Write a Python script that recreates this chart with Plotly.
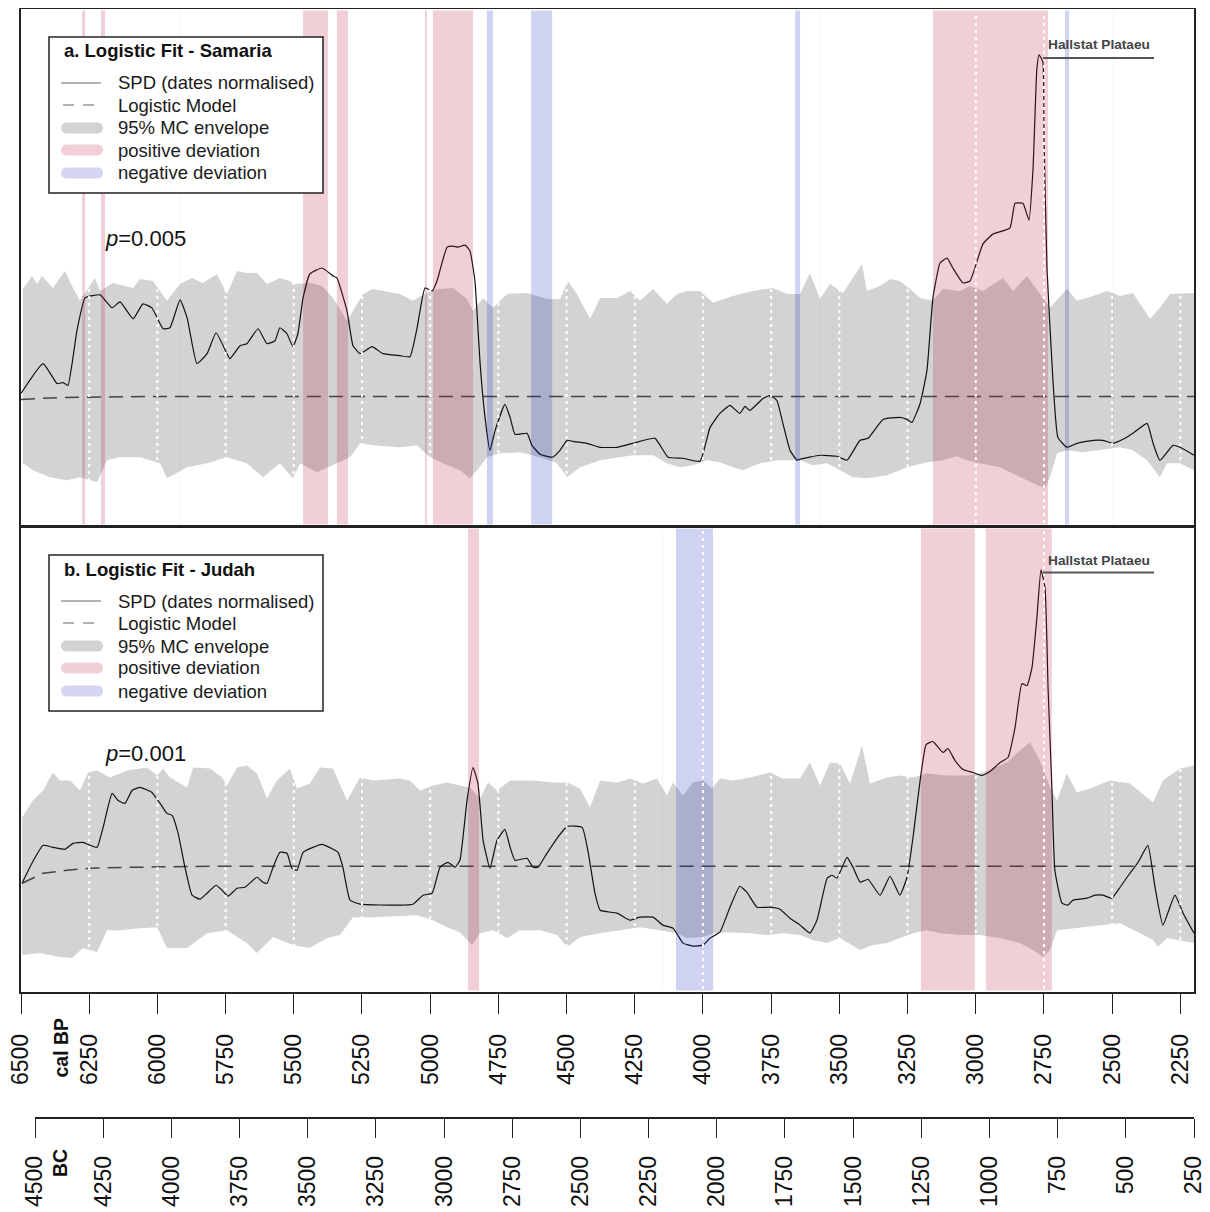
import plotly.graph_objects as go

FONT = "Liberation Sans, Arial, Helvetica, sans-serif"

# ---------------- data (x in years cal BP, y in arbitrary SPD units) ----------------
bp_ticks = list(range(6500, 2249, -250))
bc_ticks = list(range(4500, 249, -250))
bp_range = [6500, 2200]
bc_range = [4500, 250]

samaria_spd = [
    (6500, 1.33), (6419, 1.63), (6368, 1.43), (6346, 1.44), (6328, 1.41), (6295, 1.96), (6265, 2.29),
    (6210, 2.32), (6166, 2.19), (6137, 2.25), (6089, 2.08), (6053, 2.23), (6020, 2.19), (5979, 1.98),
    (5954, 1.99), (5917, 2.27), (5891, 2.09), (5855, 1.63), (5818, 1.73), (5785, 1.94), (5745, 1.73),
    (5734, 1.68), (5697, 1.81), (5672, 1.83), (5631, 1.98), (5598, 1.83), (5569, 1.86), (5551, 1.99),
    (5525, 1.93), (5503, 1.80), (5485, 1.93), (5466, 2.29), (5441, 2.53), (5397, 2.59), (5356, 2.51),
    (5342, 2.49), (5305, 2.16), (5283, 1.81), (5257, 1.73), (5213, 1.80), (5173, 1.73), (5111, 1.71),
    (5074, 1.70), (5048, 1.99), (5019, 2.39), (4993, 2.36), (4975, 2.46), (4938, 2.80), (4916, 2.81),
    (4898, 2.80), (4872, 2.82), (4854, 2.76), (4836, 2.46), (4817, 1.63), (4799, 1.09), (4781, 0.76),
    (4762, 0.96), (4726, 1.22), (4707, 1.09), (4689, 0.92), (4645, 0.93), (4627, 0.81), (4597, 0.72),
    (4553, 0.69), (4524, 0.76), (4498, 0.86), (4477, 0.85), (4425, 0.83), (4377, 0.79), (4315, 0.79),
    (4257, 0.83), (4176, 0.88), (4128, 0.69), (4073, 0.68), (4011, 0.65), (3974, 0.99), (3938, 1.13),
    (3901, 1.21), (3865, 1.13), (3846, 1.20), (3828, 1.16), (3780, 1.28), (3754, 1.31), (3729, 1.26),
    (3707, 1.03), (3681, 0.76), (3655, 0.66), (3644, 0.67), (3571, 0.71), (3509, 0.70), (3472, 0.66),
    (3424, 0.86), (3395, 0.88), (3340, 1.07), (3278, 1.09), (3252, 1.07), (3234, 1.04), (3204, 1.23),
    (3179, 1.56), (3157, 2.29), (3131, 2.64), (3105, 2.69), (3084, 2.59), (3047, 2.44), (3021, 2.46),
    (2974, 2.83), (2937, 2.93), (2875, 2.99), (2856, 3.24), (2827, 3.24), (2805, 3.07), (2790, 3.59),
    (2776, 4.59), (2768, 4.73), (2754, 4.66), (2750, 3.93), (2739, 2.59), (2717, 1.46), (2699, 0.89),
    (2666, 0.79), (2629, 0.83), (2570, 0.86), (2534, 0.86), (2497, 0.83), (2453, 0.88), (2424, 0.93),
    (2372, 1.03), (2350, 0.83), (2325, 0.66), (2277, 0.81), (2251, 0.79), (2200, 0.71),
]
samaria_env_upper = [
    (6493, 2.38), (6460, 2.51), (6441, 2.43), (6423, 2.51), (6383, 2.39), (6339, 2.56), (6313, 2.41),
    (6284, 2.26), (6229, 2.49), (6210, 2.36), (6163, 2.44), (6089, 2.39), (6064, 2.48), (6016, 2.46),
    (5965, 2.26), (5917, 2.43), (5873, 2.49), (5833, 2.44), (5782, 2.53), (5745, 2.33), (5708, 2.56),
    (5672, 2.54), (5635, 2.54), (5598, 2.43), (5551, 2.49), (5514, 2.46), (5503, 2.43), (5441, 2.44),
    (5397, 2.41), (5356, 2.29), (5305, 2.06), (5283, 2.16), (5246, 2.33), (5210, 2.38), (5111, 2.33),
    (5063, 2.26), (5001, 2.36), (4964, 2.38), (4916, 2.39), (4865, 2.28), (4843, 2.16), (4806, 2.29),
    (4770, 2.19), (4718, 2.33), (4645, 2.34), (4572, 2.28), (4524, 2.28), (4495, 2.46), (4462, 2.33),
    (4414, 2.08), (4377, 2.29), (4315, 2.29), (4267, 2.36), (4231, 2.26), (4183, 2.38), (4132, 2.23),
    (4095, 2.33), (4059, 2.36), (4011, 2.36), (3963, 2.24), (3890, 2.31), (3817, 2.36), (3743, 2.39),
    (3692, 2.33), (3644, 2.33), (3608, 2.54), (3571, 2.28), (3534, 2.43), (3487, 2.34), (3417, 2.63),
    (3399, 2.36), (3351, 2.41), (3314, 2.48), (3278, 2.46), (3241, 2.38), (3204, 2.29), (3157, 2.26),
    (3120, 2.38), (3058, 2.36), (3021, 2.41), (2974, 2.36), (2900, 2.49), (2863, 2.36), (2812, 2.51),
    (2765, 2.33), (2728, 2.19), (2666, 2.38), (2629, 2.26), (2570, 2.31), (2519, 2.36), (2471, 2.31),
    (2424, 2.34), (2361, 2.08), (2325, 2.19), (2288, 2.33), (2200, 2.34),
]
samaria_env_lower = [
    (6493, 0.63), (6456, 0.56), (6394, 0.49), (6331, 0.46), (6284, 0.49), (6221, 0.44), (6185, 0.66),
    (6137, 0.69), (6064, 0.69), (5990, 0.63), (5965, 0.48), (5891, 0.59), (5818, 0.63), (5745, 0.69),
    (5672, 0.63), (5613, 0.49), (5551, 0.63), (5503, 0.48), (5477, 0.63), (5415, 0.54), (5356, 0.61),
    (5294, 0.69), (5257, 0.83), (5210, 0.81), (5111, 0.79), (5048, 0.81), (5001, 0.69), (4953, 0.63),
    (4891, 0.56), (4854, 0.48), (4828, 0.56), (4792, 0.69), (4744, 0.73), (4671, 0.74), (4597, 0.69),
    (4535, 0.63), (4498, 0.49), (4451, 0.59), (4377, 0.66), (4304, 0.69), (4257, 0.71), (4183, 0.71),
    (4132, 0.63), (4084, 0.59), (4037, 0.61), (3985, 0.66), (3938, 0.64), (3890, 0.59), (3853, 0.56),
    (3791, 0.63), (3729, 0.66), (3644, 0.66), (3597, 0.61), (3545, 0.63), (3498, 0.56), (3450, 0.49),
    (3399, 0.48), (3325, 0.51), (3252, 0.59), (3179, 0.64), (3120, 0.66), (3069, 0.70), (3032, 0.66),
    (2985, 0.63), (2911, 0.59), (2849, 0.51), (2790, 0.43), (2746, 0.38), (2728, 0.49), (2702, 0.73),
    (2666, 0.76), (2607, 0.74), (2545, 0.76), (2471, 0.79), (2424, 0.76), (2372, 0.66), (2325, 0.49),
    (2299, 0.63), (2251, 0.63), (2200, 0.56),
]
samaria_model = [(6500, 1.27), (6430, 1.28), (6357, 1.29), (6210, 1.295), (6000, 1.30), (2200, 1.30)]
samaria_pos = [(6276, 6265), (6207, 6192), (5917.5, 5916.5), (5466, 5375), (5342, 5301), (5019, 5012),
               (4990, 4843), (3157, 2735)]
samaria_neg = [(4792, 4770), (4630, 4553), (3662, 3644), (3571.5, 3570.5), (2673, 2658), (2494.5, 2493.5)]

judah_spd = [
    (6496, 1.09), (6460, 1.29), (6419, 1.47), (6383, 1.45), (6339, 1.43), (6309, 1.49), (6273, 1.50),
    (6247, 1.47), (6221, 1.45), (6199, 1.65), (6166, 1.99), (6144, 1.92), (6119, 1.89), (6093, 2.02),
    (6064, 2.05), (6020, 2.00), (5990, 1.89), (5965, 1.79), (5946, 1.77), (5924, 1.59), (5899, 1.25),
    (5873, 0.97), (5844, 0.93), (5818, 0.99), (5785, 1.07), (5763, 1.02), (5741, 0.96), (5708, 1.04),
    (5679, 1.05), (5635, 1.15), (5613, 1.10), (5598, 1.09), (5576, 1.25), (5551, 1.40), (5525, 1.39),
    (5507, 1.24), (5488, 1.22), (5466, 1.40), (5397, 1.48), (5356, 1.43), (5338, 1.40), (5320, 1.25),
    (5294, 0.92), (5257, 0.88), (5111, 0.87), (5063, 0.88), (5026, 0.97), (4993, 0.99), (4964, 1.25),
    (4935, 1.30), (4909, 1.25), (4891, 1.32), (4865, 1.92), (4843, 2.25), (4825, 2.09), (4806, 1.52),
    (4781, 1.24), (4755, 1.52), (4726, 1.63), (4707, 1.45), (4689, 1.32), (4645, 1.34), (4623, 1.25),
    (4605, 1.25), (4572, 1.39), (4535, 1.54), (4498, 1.66), (4443, 1.65), (4422, 1.42), (4396, 0.99),
    (4377, 0.82), (4315, 0.79), (4267, 0.72), (4231, 0.75), (4183, 0.75), (4147, 0.67), (4110, 0.64),
    (4073, 0.49), (4037, 0.46), (4000, 0.47), (3974, 0.54), (3938, 0.60), (3901, 0.85), (3865, 1.06),
    (3839, 1.00), (3802, 0.85), (3754, 0.85), (3718, 0.83), (3681, 0.74), (3644, 0.67), (3608, 0.59),
    (3582, 0.72), (3545, 1.14), (3527, 1.17), (3509, 1.14), (3472, 1.35), (3450, 1.25), (3424, 1.10),
    (3395, 1.13), (3351, 0.97), (3314, 1.16), (3278, 0.97), (3252, 1.15), (3230, 1.55), (3204, 2.12),
    (3182, 2.48), (3157, 2.51), (3120, 2.40), (3102, 2.44), (3076, 2.32), (3047, 2.23), (3010, 2.20),
    (2977, 2.17), (2948, 2.21), (2911, 2.30), (2882, 2.35), (2856, 2.65), (2831, 3.09), (2812, 3.07),
    (2794, 3.25), (2776, 3.75), (2761, 4.23), (2746, 4.05), (2735, 3.05), (2721, 2.05), (2710, 1.22),
    (2684, 0.89), (2662, 0.87), (2644, 0.92), (2592, 0.94), (2563, 0.97), (2534, 0.97), (2501, 0.94),
    (2471, 1.05), (2435, 1.19), (2405, 1.30), (2369, 1.47), (2343, 1.05), (2314, 0.67), (2270, 0.97),
    (2240, 0.79), (2200, 0.59),
]
judah_env_upper = [
    (6496, 1.75), (6456, 1.92), (6419, 2.02), (6383, 2.20), (6357, 2.12), (6320, 2.12), (6284, 2.02),
    (6254, 2.20), (6221, 2.22), (6174, 2.15), (6111, 2.22), (6038, 2.25), (6001, 2.17), (5979, 2.24),
    (5954, 2.15), (5891, 2.05), (5869, 2.25), (5807, 2.24), (5763, 2.15), (5745, 2.07), (5708, 2.25),
    (5672, 2.27), (5635, 2.19), (5598, 1.94), (5562, 2.12), (5514, 2.24), (5488, 2.04), (5441, 2.09),
    (5404, 2.25), (5356, 2.24), (5305, 1.92), (5257, 2.15), (5210, 2.12), (5111, 2.14), (5074, 2.12),
    (5037, 2.02), (4990, 2.07), (4938, 2.10), (4891, 2.07), (4854, 2.05), (4817, 1.94), (4788, 2.10),
    (4755, 2.02), (4707, 2.12), (4623, 2.12), (4550, 2.10), (4498, 2.10), (4451, 2.04), (4414, 1.85),
    (4377, 2.12), (4315, 2.10), (4267, 2.14), (4220, 2.09), (4169, 2.14), (4132, 1.97), (4110, 2.10),
    (4073, 1.97), (4037, 2.10), (4000, 2.12), (3967, 2.04), (3938, 2.14), (3890, 2.12), (3828, 2.15),
    (3754, 2.20), (3707, 2.14), (3644, 2.14), (3608, 2.30), (3571, 2.07), (3534, 2.30), (3498, 2.29),
    (3461, 2.09), (3417, 2.47), (3388, 2.09), (3325, 2.15), (3278, 2.17), (3230, 2.15), (3179, 2.19),
    (3105, 2.17), (3032, 2.17), (2985, 2.19), (2937, 2.24), (2886, 2.30), (2838, 2.42), (2801, 2.50),
    (2765, 2.32), (2728, 2.05), (2702, 1.92), (2666, 2.19), (2629, 2.00), (2581, 2.04), (2508, 2.12),
    (2435, 2.09), (2350, 1.90), (2314, 2.12), (2251, 2.24), (2200, 2.27),
]
judah_env_lower = [
    (6496, 0.37), (6430, 0.39), (6357, 0.35), (6313, 0.34), (6273, 0.44), (6221, 0.40), (6185, 0.62),
    (6137, 0.62), (6064, 0.64), (6001, 0.65), (5965, 0.44), (5891, 0.44), (5818, 0.59), (5745, 0.62),
    (5672, 0.49), (5635, 0.39), (5576, 0.55), (5503, 0.47), (5441, 0.44), (5378, 0.54), (5331, 0.57),
    (5283, 0.75), (5210, 0.75), (5111, 0.76), (5048, 0.77), (4990, 0.72), (4938, 0.65), (4891, 0.60),
    (4847, 0.47), (4817, 0.59), (4770, 0.62), (4718, 0.54), (4671, 0.62), (4597, 0.62), (4535, 0.57),
    (4498, 0.45), (4451, 0.55), (4377, 0.59), (4304, 0.62), (4231, 0.65), (4158, 0.62), (4095, 0.59),
    (4059, 0.54), (4000, 0.55), (3963, 0.59), (3912, 0.60), (3828, 0.59), (3765, 0.57), (3707, 0.59),
    (3644, 0.57), (3597, 0.52), (3545, 0.49), (3498, 0.54), (3424, 0.42), (3377, 0.47), (3325, 0.49),
    (3278, 0.54), (3230, 0.59), (3179, 0.62), (3131, 0.59), (3058, 0.57), (2985, 0.57), (2911, 0.54),
    (2838, 0.49), (2790, 0.42), (2754, 0.35), (2728, 0.42), (2702, 0.62), (2644, 0.64), (2545, 0.67),
    (2471, 0.69), (2398, 0.59), (2350, 0.52), (2332, 0.45), (2299, 0.54), (2200, 0.49),
]
judah_model = [(6496, 1.09), (6419, 1.19), (6331, 1.22), (6247, 1.24), (6089, 1.25), (5800, 1.26), (2200, 1.26)]
judah_pos = [(4861, 4821), (3201, 3003), (2963, 2721)]
judah_neg = [(4099, 3963), (4147.5, 4146.5)]

legend_labels = ["SPD (dates normalised)", "Logistic Model", "95% MC envelope",
                 "positive deviation", "negative deviation"]

# ---------------- layout helpers (page pixel -> paper fraction) ----------------
# the page body has an 8px default margin, so the figure is offset by OFF
OFF = 8
W, H = 1210 - OFF, 1212 - OFF
LEFT, RIGHT, TOP, BOTTOM = 21, 1194, 8, 1200          # plot area in page pixels
ML, MR, MT, MB = LEFT - OFF, W - (RIGHT - OFF), TOP - OFF, H - (BOTTOM - OFF)
PW, PH = RIGHT - LEFT, BOTTOM - TOP


def px(x):
    return (x - LEFT) / PW


def py(y):
    return (BOTTOM - y) / PH


GRAY_ENV = "#d3d3d3"
POS_COL = "rgba(180,20,50,0.2)"
NEG_COL = "rgba(20,30,190,0.2)"

fig = go.Figure()
shapes, annotations = [], []


def add_panel(spd, upper, lower, model, pos, neg, xa, ya, height_px):
    ux, uy = zip(*upper)
    lx, ly = zip(*lower)
    fig.add_trace(go.Scatter(x=list(ux) + list(lx)[::-1], y=list(uy) + list(ly)[::-1],
                             fill="toself", fillcolor=GRAY_ENV, mode="lines", line=dict(width=0),
                             hoverinfo="skip", showlegend=False, xaxis=xa, yaxis=ya))
    mx, my = zip(*model)
    fig.add_trace(go.Scatter(x=mx, y=my, mode="lines", line=dict(color="#444", width=1.5, dash="14px,8px"),
                             hoverinfo="skip", showlegend=False, xaxis=xa, yaxis=ya))
    sx, sy = zip(*spd)
    fig.add_trace(go.Scatter(x=sx, y=sy, mode="lines",
                             line=dict(color="#111", width=1.2, shape="spline", smoothing=0.4),
                             hoverinfo="skip", showlegend=False, xaxis=xa, yaxis=ya))
    inset = 1.5 / height_px
    for (a, b) in pos:
        shapes.append(dict(type="rect", xref=xa, yref=f"{ya} domain", x0=a, x1=b, y0=inset, y1=1 - inset,
                           fillcolor=POS_COL, line=dict(width=0), layer="above"))
    for (a, b) in neg:
        shapes.append(dict(type="rect", xref=xa, yref=f"{ya} domain", x0=a, x1=b, y0=inset, y1=1 - inset,
                           fillcolor=NEG_COL, line=dict(width=0), layer="above"))
    for t in bp_ticks[1:]:
        shapes.append(dict(type="line", xref=xa, yref=f"{ya} domain", x0=t, x1=t,
                           y0=2 * inset, y1=1 - 2 * inset,
                           line=dict(color="white", width=2, dash="3px,4px"), layer="above"))


def pill_path(x0, x1, yc, h):
    r = h / 2.0
    k = 0.5523 * r
    P = lambda x, y: f"{px(x):.6f},{py(y):.6f}"
    return (f"M{P(x0 + r, yc - r)} L{P(x1 - r, yc - r)} "
            f"C{P(x1 - r + k, yc - r)} {P(x1, yc - k)} {P(x1, yc)} "
            f"C{P(x1, yc + k)} {P(x1 - r + k, yc + r)} {P(x1 - r, yc + r)} "
            f"L{P(x0 + r, yc + r)} "
            f"C{P(x0 + r - k, yc + r)} {P(x0, yc + k)} {P(x0, yc)} "
            f"C{P(x0, yc - k)} {P(x0 + r - k, yc - r)} {P(x0 + r, yc - r)} Z")


def add_legend(top, title, ptext, ptext_y, hall_text_y, hall_line_y):
    shapes.append(dict(type="rect", xref="paper", yref="paper", x0=px(49), x1=px(323),
                       y0=py(top + 156), y1=py(top), fillcolor="white",
                       line=dict(color="#222", width=1.5), layer="above"))
    annotations.append(dict(text=f"<b>{title}</b>", x=px(62), y=py(top + 14), xref="paper", yref="paper",
                            xanchor="left", yanchor="middle", showarrow=False,
                            font=dict(family=FONT, size=18.5, color="#111")))
    rows = [top + 46, top + 68, top + 91, top + 113, top + 136]
    for lab, ry in zip(legend_labels, rows):
        annotations.append(dict(text=lab, x=px(116), y=py(ry), xref="paper", yref="paper",
                                xanchor="left", yanchor="middle", showarrow=False,
                                font=dict(family=FONT, size=18.5, color="#1a1a1a")))
    shapes.append(dict(type="line", xref="paper", yref="paper", x0=px(61), x1=px(101),
                       y0=py(rows[0]), y1=py(rows[0]), line=dict(color="#999", width=1.5), layer="above"))
    shapes.append(dict(type="line", xref="paper", yref="paper", x0=px(63), x1=px(100),
                       y0=py(rows[1]), y1=py(rows[1]), line=dict(color="#999", width=1.5, dash="11px,9px"),
                       layer="above"))
    for col, ry in zip([GRAY_ENV, "#f0d0d6", "#d4d5f2"], rows[2:]):
        shapes.append(dict(type="path", xref="paper", yref="paper", path=pill_path(61, 103, ry, 11),
                           fillcolor=col, line=dict(width=0), layer="above"))
    annotations.append(dict(text=ptext, x=px(103), y=py(ptext_y), xref="paper", yref="paper",
                            xanchor="left", yanchor="middle", showarrow=False,
                            font=dict(family=FONT, size=22, color="#111")))
    annotations.append(dict(text="<b>Hallstat Plataeu</b>", x=px(1099), y=py(hall_text_y), xref="paper",
                            yref="paper", xanchor="center", yanchor="middle", showarrow=False,
                            font=dict(family=FONT, size=13.7, color="#444")))
    shapes.append(dict(type="line", xref="paper", yref="paper", x0=px(1043), x1=px(1154),
                       y0=py(hall_line_y), y1=py(hall_line_y), line=dict(color="#555", width=2),
                       layer="above"))


add_panel(samaria_spd, samaria_env_upper, samaria_env_lower, samaria_model, samaria_pos, samaria_neg,
          "x", "y", 526 - 9)
add_panel(judah_spd, judah_env_upper, judah_env_lower, judah_model, judah_pos, judah_neg,
          "x2", "y2", 992 - 527)
add_legend(37, "a. Logistic Fit - Samaria", "<i>p</i>=0.005", 238, 44, 58)
add_legend(555, "b. Logistic Fit - Judah", "<i>p</i>=0.001", 753, 560, 572.5)

# empty trace so the BC axis subplot exists
fig.add_trace(go.Scatter(x=[], y=[], xaxis="x3", yaxis="y3", showlegend=False, hoverinfo="skip"))

annotations.append(dict(text="<b>cal BP</b>", x=px(60), y=py(1047.5), xref="paper", yref="paper",
                        textangle=-90, showarrow=False, xanchor="center", yanchor="middle",
                        font=dict(family=FONT, size=19.5, color="#111")))
annotations.append(dict(text="<b>BC</b>", x=px(59.5), y=py(1163.5), xref="paper", yref="paper",
                        textangle=-90, showarrow=False, xanchor="center", yanchor="middle",
                        font=dict(family=FONT, size=19.5, color="#111")))

LINE = dict(showline=True, linecolor="#222", linewidth=1.5, mirror=True, showgrid=False, zeroline=False)
tickfont = dict(family=FONT, size=23, color="#111")

fig.update_layout(
    width=W, height=H, autosize=False,
    margin=dict(l=ML, r=MR, t=MT, b=MB, pad=0),
    paper_bgcolor="white", plot_bgcolor="white",
    hovermode=False, showlegend=False,
    xaxis=dict(domain=[0, 1], range=bp_range, anchor="y", showticklabels=False, ticks="", **LINE),
    yaxis=dict(domain=[py(526), py(9)], range=[0, 5.19], anchor="x", showticklabels=False, ticks="", **LINE),
    xaxis2=dict(domain=[0, 1], range=bp_range, anchor="y2", tickmode="array", tickvals=bp_ticks,
                ticktext=[str(t) for t in bp_ticks], ticks="outside", ticklen=20, tickwidth=1.4,
                tickcolor="#222", tickangle=-90, tickfont=tickfont, ticklabelstandoff=11,
                ticklabeloverflow="allow", **LINE),
    yaxis2=dict(domain=[py(992), py(527)], range=[0, 4.66], anchor="x2", showticklabels=False, ticks="",
                **LINE),
    xaxis3=dict(domain=[px(35), 1], range=bc_range, anchor="y3", tickmode="array", tickvals=bc_ticks,
                ticktext=[str(t) for t in bc_ticks], ticks="outside", ticklen=19, tickwidth=1.4,
                tickcolor="#222", tickangle=-90, tickfont=tickfont, ticklabelstandoff=9,
                ticklabeloverflow="allow", showline=True,
                linecolor="#222", linewidth=1.5, showgrid=False, zeroline=False),
    yaxis3=dict(domain=[py(1117), py(1112)], range=[0, 1], anchor="x3", visible=False),
    shapes=shapes, annotations=annotations,
)

fig.write_html("out.html")
